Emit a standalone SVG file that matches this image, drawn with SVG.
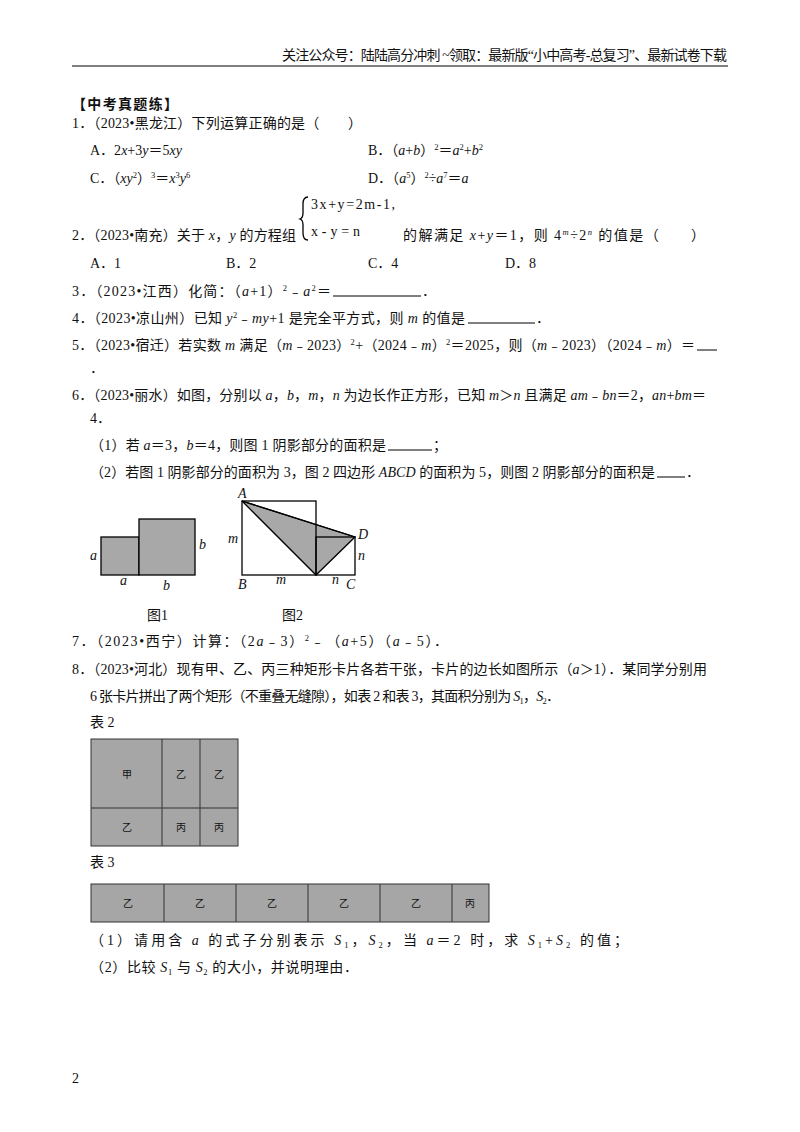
<svg xmlns="http://www.w3.org/2000/svg" width="800" height="1132" viewBox="0 0 800 1132">
<style>
text{font-family:"Liberation Serif","Noto Sans CJK SC",serif;font-size:14px;fill:#111}
.i{font-style:italic}
.s{font-size:8.5px}
.ln{stroke:#000;stroke-width:1.3;fill:none}
.g{fill:#a8a8a8;stroke:#000;stroke-width:1.3}
.t{fill:#a6a6a6;stroke:#333;stroke-width:1}
.c{font-size:10px}
</style>
<rect width="800" height="1132" fill="#fff"/>
<text x="727" y="60" text-anchor="end" font-size="12" textLength="445" lengthAdjust="spacing">关注公众号：陆陆高分冲刺 ~领取：最新版“小中高考-总复习”、最新试卷下载</text>
<line x1="72" y1="66" x2="728" y2="66" stroke="#000" stroke-width="1"/>
<text x="72" y="109" font-weight="bold" textLength="106" lengthAdjust="spacing">【中考真题练】</text>
<text x="72" y="128" textLength="290" lengthAdjust="spacing">1．（2023•黑龙江）下列运算正确的是（　　）</text>
<text x="90" y="155">A．2<tspan class="i">x</tspan>+3<tspan class="i">y</tspan>＝5<tspan class="i">xy</tspan></text>
<text x="368" y="155">B．（<tspan class="i">a</tspan>+<tspan class="i">b</tspan>）<tspan class="s" dy="-5">2</tspan><tspan dy="5">＝</tspan><tspan class="i">a</tspan><tspan class="s" dy="-5">2</tspan><tspan dy="5">+</tspan><tspan class="i">b</tspan><tspan class="s" dy="-5">2</tspan></text>
<text x="90" y="183">C．（<tspan class="i">xy</tspan><tspan class="s" dy="-5">2</tspan><tspan dy="5">）</tspan><tspan class="s" dy="-5">3</tspan><tspan dy="5">＝</tspan><tspan class="i">x</tspan><tspan class="s" dy="-5">3</tspan><tspan dy="5" class="i">y</tspan><tspan class="s" dy="-5">6</tspan></text>
<text x="368" y="183">D．（<tspan class="i">a</tspan><tspan class="s" dy="-5">5</tspan><tspan dy="5">）</tspan><tspan class="s" dy="-5">2</tspan><tspan dy="5">÷</tspan><tspan class="i">a</tspan><tspan class="s" dy="-5">7</tspan><tspan dy="5">＝</tspan><tspan class="i">a</tspan></text>
<path d="M308 197 Q303 197 303 204 V213 Q303 218 300 219 Q303 220 303 225 V233 Q303 240 308 240" class="ln" stroke-width="1"/>
<text x="311" y="209" font-family="Liberation Mono" font-size="14" textLength="84">3x+y=2m-1,</text>
<text x="311" y="236" font-family="Liberation Mono" font-size="14" textLength="49">x-y=n</text>
<text x="72" y="240" textLength="224" lengthAdjust="spacing">2．（2023•南充）关于 <tspan class="i">x</tspan>，<tspan class="i">y</tspan> 的方程组</text>
<text x="403" y="240" textLength="302" lengthAdjust="spacing">的解满足 <tspan class="i">x</tspan>+<tspan class="i">y</tspan>＝1，则 4<tspan class="s i" dy="-5">m</tspan><tspan dy="5">÷2</tspan><tspan class="s i" dy="-5">n</tspan><tspan dy="5"> 的值是（　　）</tspan></text>
<text x="90" y="268">A．1</text><text x="226" y="268">B．2</text><text x="368" y="268">C．4</text><text x="505" y="268">D．8</text>
<text x="72" y="296" textLength="259" lengthAdjust="spacing">3．（2023•江西）化简：（<tspan class="i">a</tspan>+1）<tspan class="s" dy="-5">2</tspan><tspan dy="5">﹣</tspan><tspan class="i">a</tspan><tspan class="s" dy="-5">2</tspan><tspan dy="5">＝</tspan></text>
<line x1="333" y1="296" x2="421" y2="296" stroke="#000"/><text x="422" y="296">．</text>
<text x="72" y="323" textLength="393" lengthAdjust="spacing">4．（2023•凉山州）已知 <tspan class="i">y</tspan><tspan class="s" dy="-5">2</tspan><tspan dy="5">﹣</tspan><tspan class="i">my</tspan>+1 是完全平方式，则 <tspan class="i">m</tspan> 的值是</text>
<line x1="468" y1="323" x2="535" y2="323" stroke="#000"/><text x="536" y="323">．</text>
<text x="72" y="350" textLength="623" lengthAdjust="spacing">5．（2023•宿迁）若实数 <tspan class="i">m</tspan> 满足（<tspan class="i">m</tspan>﹣2023）<tspan class="s" dy="-5">2</tspan><tspan dy="5">+（2024﹣</tspan><tspan class="i">m</tspan>）<tspan class="s" dy="-5">2</tspan><tspan dy="5">＝2025，则（</tspan><tspan class="i">m</tspan>﹣2023）（2024﹣<tspan class="i">m</tspan>）＝</text>
<line x1="697" y1="350" x2="717" y2="350" stroke="#000"/>
<text x="90" y="373">．</text>
<text x="72" y="400" textLength="634" lengthAdjust="spacing">6．（2023•丽水）如图，分别以 <tspan class="i">a</tspan>，<tspan class="i">b</tspan>，<tspan class="i">m</tspan>，<tspan class="i">n</tspan> 为边长作正方形，已知 <tspan class="i">m</tspan>＞<tspan class="i">n</tspan> 且满足 <tspan class="i">am</tspan>﹣<tspan class="i">bn</tspan>＝2，<tspan class="i">an</tspan>+<tspan class="i">bm</tspan>＝</text>
<text x="90" y="423">4．</text>
<text x="90" y="450" textLength="296" lengthAdjust="spacing">（1）若 <tspan class="i">a</tspan>＝3，<tspan class="i">b</tspan>＝4，则图 1 阴影部分的面积是</text>
<line x1="388" y1="450" x2="432" y2="450" stroke="#000"/><text x="433" y="450">；</text>
<text x="90" y="477" textLength="565" lengthAdjust="spacing">（2）若图 1 阴影部分的面积为 3，图 2 四边形 <tspan class="i">ABCD</tspan> 的面积为 5，则图 2 阴影部分的面积是</text>
<line x1="657" y1="477" x2="685" y2="477" stroke="#000"/><text x="686" y="477">．</text>
<g id="fig1">
<rect x="101" y="537" width="38" height="38" class="g"/>
<rect x="139" y="519" width="56" height="56" class="g"/>
<text x="90" y="560" class="i">a</text><text x="120" y="585" class="i">a</text>
<text x="163" y="590" class="i">b</text><text x="199" y="549" class="i">b</text>
<text x="147" y="620" font-size="15">图1</text>
</g>
<g id="fig2">
<polygon points="242,501 316,575 355,537" class="g"/>
<rect x="242" y="501" width="74" height="74" class="ln"/>
<rect x="316" y="537" width="39" height="38" class="ln"/>
<line x1="242" y1="501" x2="355" y2="537" class="ln"/>
<text x="238" y="498" class="i">A</text><text x="228" y="543" class="i">m</text>
<text x="358" y="539" class="i">D</text><text x="358" y="560" class="i">n</text>
<text x="238" y="589" class="i">B</text><text x="276" y="584" class="i">m</text>
<text x="332" y="584" class="i">n</text><text x="346" y="589" class="i">C</text>
<text x="282" y="620" font-size="15">图2</text>
</g>
<text x="72" y="646" textLength="376" lengthAdjust="spacing">7．（2023•西宁）计算：（2<tspan class="i">a</tspan>﹣3）<tspan class="s" dy="-5">2</tspan><tspan dy="5">﹣（</tspan><tspan class="i">a</tspan>+5）（<tspan class="i">a</tspan>﹣5）．</text>
<text x="72" y="674" textLength="635" lengthAdjust="spacing">8．（2023•河北）现有甲、乙、丙三种矩形卡片各若干张，卡片的边长如图所示（<tspan class="i">a</tspan>＞1）．某同学分别用</text>
<text x="90" y="701" textLength="470" lengthAdjust="spacing">6 张卡片拼出了两个矩形（不重叠无缝隙），如表 2 和表 3，其面积分别为 <tspan class="i">S</tspan><tspan class="s" dy="3">1</tspan><tspan dy="-3">，</tspan><tspan class="i">S</tspan><tspan class="s" dy="3">2</tspan><tspan dy="-3">．</tspan></text>
<text x="90" y="727">表 2</text>
<g id="table2">
<rect x="91" y="739" width="147" height="107" class="t"/>
<line x1="91" y1="808" x2="238" y2="808" stroke="#333"/>
<line x1="162" y1="739" x2="162" y2="846" stroke="#333"/>
<line x1="200" y1="739" x2="200" y2="846" stroke="#333"/>
<text x="127" y="778" class="c" text-anchor="middle">甲</text>
<text x="181" y="778" class="c" text-anchor="middle">乙</text>
<text x="219" y="778" class="c" text-anchor="middle">乙</text>
<text x="127" y="831" class="c" text-anchor="middle">乙</text>
<text x="181" y="831" class="c" text-anchor="middle">丙</text>
<text x="219" y="831" class="c" text-anchor="middle">丙</text>
</g>
<text x="90" y="867">表 3</text>
<g id="table3">
<rect x="91" y="884" width="398" height="38" class="t"/>
<line x1="164" y1="884" x2="164" y2="922" stroke="#333"/>
<line x1="236" y1="884" x2="236" y2="922" stroke="#333"/>
<line x1="308" y1="884" x2="308" y2="922" stroke="#333"/>
<line x1="380" y1="884" x2="380" y2="922" stroke="#333"/>
<line x1="452" y1="884" x2="452" y2="922" stroke="#333"/>
<text x="128" y="907" class="c" text-anchor="middle">乙</text>
<text x="200" y="907" class="c" text-anchor="middle">乙</text>
<text x="272" y="907" class="c" text-anchor="middle">乙</text>
<text x="344" y="907" class="c" text-anchor="middle">乙</text>
<text x="416" y="907" class="c" text-anchor="middle">乙</text>
<text x="470" y="907" class="c" text-anchor="middle">丙</text>
</g>
<text x="90" y="945" textLength="538" lengthAdjust="spacing">（1）请用含 <tspan class="i">a</tspan> 的式子分别表示 <tspan class="i">S</tspan><tspan class="s" dy="3">1</tspan><tspan dy="-3">，</tspan><tspan class="i">S</tspan><tspan class="s" dy="3">2</tspan><tspan dy="-3">，当 </tspan><tspan class="i">a</tspan>＝2 时，求 <tspan class="i">S</tspan><tspan class="s" dy="3">1</tspan><tspan dy="-3">+</tspan><tspan class="i">S</tspan><tspan class="s" dy="3">2</tspan><tspan dy="-3"> 的值；</tspan></text>
<text x="90" y="972" textLength="268" lengthAdjust="spacing">（2）比较 <tspan class="i">S</tspan><tspan class="s" dy="3">1</tspan><tspan dy="-3"> 与 </tspan><tspan class="i">S</tspan><tspan class="s" dy="3">2</tspan><tspan dy="-3"> 的大小，并说明理由．</tspan></text>
<text x="72" y="1083" font-family="Liberation Sans" font-size="12">2</text>
</svg>
